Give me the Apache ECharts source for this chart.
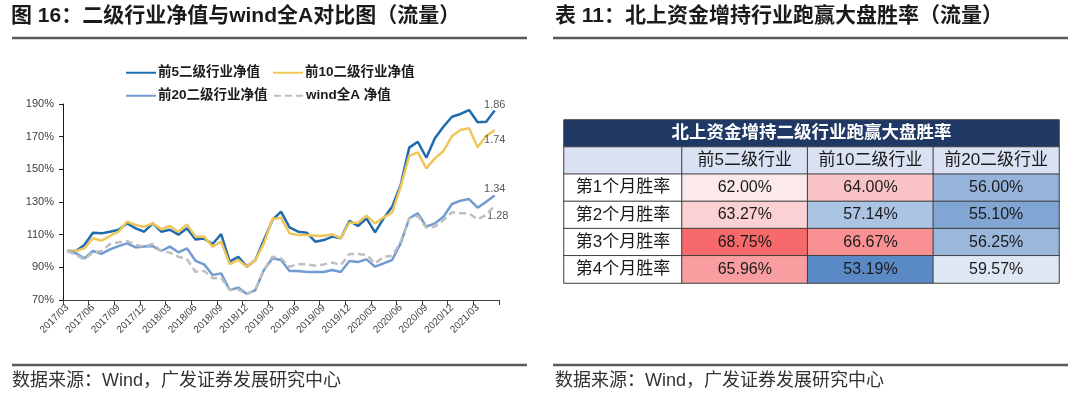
<!DOCTYPE html>
<html><head><meta charset="utf-8">
<script src="https://cdn.jsdelivr.net/npm/echarts@6/dist/echarts.min.js"></script>
<style>html,body{margin:0;padding:0;background:#fff}#c{width:1080px;height:398px}</style>
</head><body><div id="c"></div>
<script>
const categories = ['2017/03','2017/04','2017/05','2017/06','2017/07','2017/08','2017/09','2017/10','2017/11','2017/12',
'2018/01','2018/02','2018/03','2018/04','2018/05','2018/06','2018/07','2018/08','2018/09','2018/10','2018/11','2018/12',
'2019/01','2019/02','2019/03','2019/04','2019/05','2019/06','2019/07','2019/08','2019/09','2019/10','2019/11','2019/12',
'2020/01','2020/02','2020/03','2020/04','2020/05','2020/06','2020/07','2020/08','2020/09','2020/10','2020/11','2020/12',
'2021/01','2021/02','2021/03','2021/04','2021/05'];
const top5 = [1.000,1.000,1.037,1.112,1.108,1.118,1.130,1.169,1.139,1.118,1.169,1.118,1.130,1.100,1.139,1.071,1.076,1.043,1.104,0.935,0.965,0.904,0.945,1.067,1.190,1.241,1.145,1.118,1.112,1.057,1.067,1.088,1.078,1.184,1.153,1.200,1.114,1.200,1.271,1.404,1.633,1.669,1.571,1.690,1.761,1.822,1.839,1.863,1.788,1.792,1.860];
const top10 = [1.000,1.000,1.016,1.078,1.063,1.092,1.118,1.180,1.159,1.149,1.169,1.133,1.153,1.118,1.163,1.088,1.088,1.027,1.057,0.920,0.945,0.904,0.945,1.047,1.196,1.204,1.108,1.098,1.098,1.094,1.094,1.102,1.078,1.173,1.173,1.216,1.169,1.206,1.235,1.394,1.582,1.604,1.506,1.567,1.612,1.704,1.741,1.751,1.635,1.704,1.740];
const top20 = [1.000,0.986,0.955,1.000,0.982,1.010,1.030,1.047,1.022,1.027,1.030,1.000,1.027,0.992,1.016,0.940,0.918,0.853,0.863,0.761,0.776,0.737,0.761,0.884,0.955,0.945,0.878,0.878,0.871,0.871,0.871,0.884,0.871,0.939,0.933,0.949,0.904,0.924,0.945,1.047,1.200,1.231,1.149,1.169,1.210,1.288,1.308,1.318,1.265,1.302,1.340];
const windA = [1.000,0.976,0.949,0.992,1.000,1.043,1.053,1.061,1.037,1.027,1.043,1.000,0.990,0.965,0.949,0.873,0.878,0.833,0.837,0.761,0.765,0.735,0.765,0.884,0.965,0.955,0.904,0.920,0.918,0.910,0.918,0.929,0.914,0.982,0.982,0.976,0.924,0.965,0.969,1.057,1.200,1.214,1.143,1.149,1.190,1.237,1.231,1.231,1.194,1.220,1.280];
const seriesNames = ['前5二级行业净值','前10二级行业净值','前20二级行业净值','wind全A 净值'];

const tableCaption = '北上资金增持二级行业跑赢大盘胜率';
const tableColumns = ['前5二级行业','前10二级行业','前20二级行业'];
const tableRows = ['第1个月胜率','第2个月胜率','第3个月胜率','第4个月胜率'];
const winTop5 = [62.00, 63.27, 68.75, 65.96];
const winTop10 = [64.00, 57.14, 66.67, 53.19];
const winTop20 = [56.00, 55.10, 56.25, 59.57];

const FONT = '"Liberation Sans","Noto Sans CJK SC",sans-serif';
const chart = echarts.init(document.getElementById('c'), null, {renderer:'canvas'});

const lineData = [top5, top10, top20, windA];
const lineColors = ['#1F6BAE','#EEC65A','#729BD2','#BFBFBF'];
const lastIdx = categories.length - 1;
const labelPos = [
  {position:'top', distance:0},
  {position:'bottom', distance:4},
  {position:'top', distance:0},
  {position:'bottom', distance:5, offset:[3,0]}
];

const lineSeries = lineData.map((d, i) => ({
  type:'line', name: seriesNames[i], xAxisIndex:0, yAxisIndex:0,
  data: d, symbol:'none', smooth:false, z: 2 + i,
  lineStyle:{color: lineColors[i], width: 2.5, type: i === 3 ? [7,4] : 'solid'},
  itemStyle:{color: lineColors[i]},
  emphasis:{disabled:true},
  markPoint:{
    symbol:'circle', symbolSize:1, itemStyle:{color:'rgba(0,0,0,0)'},
    label: Object.assign({show:true, color:'#595959', fontSize:11, fontFamily:FONT,
      formatter: p => Number(p.value).toFixed(2)}, labelPos[i]),
    data:[{coord:[lastIdx, d[lastIdx]], value: d[lastIdx]}]
  }
}));

const valueMin = Math.min(...winTop5, ...winTop10, ...winTop20);
const valueMax = Math.max(...winTop5, ...winTop10, ...winTop20);
const winCols = [winTop5, winTop10, winTop20];
const cellData = [];
winCols.forEach((col, c) => col.forEach((v, r) => cellData.push([c, r + 1, v])));

const HEADER_BG = '#D9E1F2', BORDER = '#3F3F3F';
const rowCats = ['hdr'].concat(tableRows);

function legendAt(name, left, top) {
  return {data:[name], left, top, padding:0, itemWidth:30, itemHeight:12, itemGap:0,
    itemStyle:{opacity:0, borderWidth:0},
    textStyle:{fontSize:13.5, fontWeight:'bold', color:'#1a1a1a', fontFamily:FONT, padding:[0,0,0,-3]},
    selectedMode:false};
}

const option = {
  animation:false,
  title:[
    {text:'图 16：二级行业净值与wind全A对比图（流量）', left:11, top:6, padding:0,
      textStyle:{fontSize:21, fontWeight:'bold', color:'#1a1a1a', fontFamily:FONT}},
    {text:'表 11：北上资金增持行业跑赢大盘胜率（流量）', left:555, top:6, padding:0,
      textStyle:{fontSize:21, fontWeight:'bold', color:'#1a1a1a', fontFamily:FONT}},
    {text:'数据来源：Wind，广发证券发展研究中心', left:12, top:372, padding:0,
      textStyle:{fontSize:18, fontWeight:'normal', color:'#333', fontFamily:FONT}},
    {text:'数据来源：Wind，广发证券发展研究中心', left:555, top:372, padding:0,
      textStyle:{fontSize:18, fontWeight:'normal', color:'#333', fontFamily:FONT}}
  ],
  legend:[
    legendAt(seriesNames[0], 125, 66),
    legendAt(seriesNames[1], 272, 66),
    legendAt(seriesNames[2], 125, 89),
    legendAt(seriesNames[3], 273, 89)
  ],
  graphic:[
    {type:'line', shape:{x1:12,y1:38,x2:527,y2:38}, style:{stroke:'#5a5a5a', lineWidth:2.5}, silent:true},
    {type:'line', shape:{x1:553,y1:38,x2:1068,y2:38}, style:{stroke:'#5a5a5a', lineWidth:2.5}, silent:true},
    {type:'line', shape:{x1:12,y1:365,x2:527,y2:365}, style:{stroke:'#5a5a5a', lineWidth:2.5}, silent:true},
    {type:'line', shape:{x1:553,y1:365,x2:1068,y2:365}, style:{stroke:'#5a5a5a', lineWidth:2.5}, silent:true}
  ],
  grid:[
    {left:63, top:104, width:436, height:196},
    {left:564, top:120, width:495, height:27},
    {left:564, top:147, width:118, height:136},
    {left:682, top:147, width:377, height:136}
  ],
  xAxis:[
    {type:'category', gridIndex:0, data:categories, boundaryGap:true,
      axisLine:{lineStyle:{color:'#404040', width:1}},
      axisTick:{show:true, interval:2, length:5, lineStyle:{color:'#404040'}},
      axisLabel:{interval:2, rotate:45, fontSize:10, color:'#404040', margin:6, fontFamily:FONT},
      splitLine:{show:false}},
    {type:'category', gridIndex:1, data:['cap'], show:false},
    {type:'category', gridIndex:2, data:['rowlabel'], show:false},
    {type:'category', gridIndex:3, data:tableColumns, show:false}
  ],
  yAxis:[
    {type:'value', gridIndex:0, min:0.7, max:1.9, interval:0.2,
      axisLine:{show:true, lineStyle:{color:'#1a1a1a', width:1}},
      axisTick:{show:true, length:4, lineStyle:{color:'#1a1a1a'}},
      axisLabel:{formatter: v => Math.round(v*100) + '%', fontSize:11, color:'#404040', margin:9, fontFamily:FONT},
      splitLine:{show:false}},
    {type:'category', gridIndex:1, data:['cap'], show:false},
    {type:'category', gridIndex:2, data:rowCats, inverse:true, show:false},
    {type:'category', gridIndex:3, data:rowCats, inverse:true, show:false}
  ],
  visualMap:{
    type:'continuous', show:false, seriesIndex:7, dimension:2,
    min:valueMin, max:valueMax,
    inRange:{color:['#5A8AC6','#FCFCFF','#F8696B']}
  },
  series: lineSeries.concat([
    {type:'heatmap', xAxisIndex:1, yAxisIndex:1, data:[[0,0,1]],
      itemStyle:{color:'#1F3864', borderColor:BORDER, borderWidth:1},
      label:{show:true, formatter:()=>tableCaption, color:'#fff', fontSize:17.5, fontWeight:'bold', fontFamily:FONT},
      emphasis:{disabled:true}},
    {type:'heatmap', xAxisIndex:2, yAxisIndex:2,
      data: rowCats.map((r, i) => ({value:[0, i, 0], name: i === 0 ? '' : r,
        itemStyle:{color: i === 0 ? HEADER_BG : '#FFFFFF'}})),
      itemStyle:{borderColor:BORDER, borderWidth:1},
      label:{show:true, formatter:p=>p.name, color:'#1a1a1a', fontSize:17, fontFamily:FONT},
      emphasis:{disabled:true}},
    {type:'heatmap', xAxisIndex:3, yAxisIndex:3,
      data: tableColumns.map((c, i) => ({value:[i, 0, 0], name:c})),
      itemStyle:{color:HEADER_BG, borderColor:BORDER, borderWidth:1},
      label:{show:true, formatter:p=>p.name, color:'#1a1a1a', fontSize:17, fontFamily:FONT},
      emphasis:{disabled:true}},
    {type:'heatmap', xAxisIndex:3, yAxisIndex:3, data: cellData,
      itemStyle:{borderColor:BORDER, borderWidth:1},
      label:{show:true, formatter:p=>p.value[2].toFixed(2) + '%', color:'#1a1a1a', fontSize:16, fontFamily:FONT},
      emphasis:{disabled:true}}
  ])
};
chart.setOption(option);
</script></body></html>
